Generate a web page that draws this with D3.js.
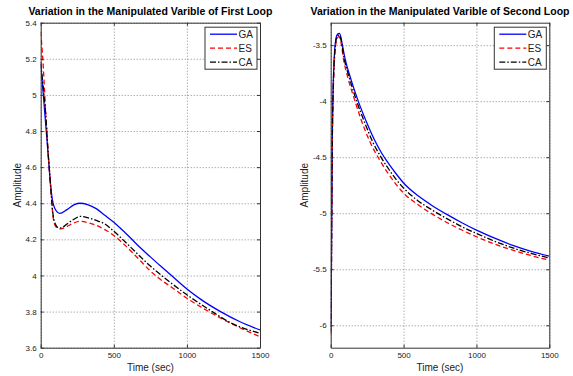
<!DOCTYPE html>
<html>
<head>
<meta charset="utf-8">
<script src="https://cdn.jsdelivr.net/npm/d3@7/dist/d3.min.js"></script>
<style>
  body { margin: 0; background: #fff; }
  svg { font-family: "Liberation Sans", Arial, sans-serif; }
</style>
</head>
<body>
<div id="chart"></div>
<script>
// ---- Data ----
const seriesNames = ["GA", "ES", "CA"]
const xTicks = [0, 500, 1000, 1500]

// first loop
const loop1Ticks = [3.6, 3.8, 4, 4.2, 4.4, 4.6, 4.8, 5, 5.2, 5.4]
const loop1GA_t = [0, 10, 20, 32, 50, 69, 82, 96, 130, 180, 230, 268, 320, 380, 439, 500, 560, 620, 680, 750, 820, 887, 1000, 1100, 1230, 1360, 1500]
const loop1GA_v = [5.17, 5.08, 4.98, 4.86, 4.68, 4.49, 4.41, 4.372, 4.344, 4.365, 4.392, 4.40, 4.393, 4.37, 4.333, 4.295, 4.25, 4.203, 4.155, 4.103, 4.052, 4.005, 3.925, 3.865, 3.80, 3.745, 3.698]
const loop1ES_t = [0, 8, 16, 24, 32, 42, 50, 60, 70, 84, 100, 120, 137, 180, 230, 268, 320, 380, 439, 500, 560, 620, 680, 750, 800, 900, 1000, 1150, 1300, 1500]
const loop1ES_v = [5.35, 5.27, 5.18, 5.06, 4.93, 4.80, 4.69, 4.58, 4.47, 4.33, 4.275, 4.26, 4.258, 4.272, 4.292, 4.30, 4.293, 4.278, 4.254, 4.222, 4.18, 4.133, 4.083, 4.025, 3.99, 3.932, 3.874, 3.80, 3.735, 3.661]
const loop1CA_t = [0, 10, 20, 30, 40, 50, 60, 70, 84, 100, 120, 140, 180, 230, 270, 320, 380, 439, 500, 560, 620, 680, 750, 850, 1000, 1150, 1300, 1500]
const loop1CA_v = [5.18, 5.10, 5.02, 4.94, 4.82, 4.69, 4.58, 4.47, 4.34, 4.285, 4.265, 4.264, 4.285, 4.313, 4.327, 4.32, 4.305, 4.285, 4.245, 4.20, 4.153, 4.105, 4.052, 3.985, 3.893, 3.812, 3.738, 3.68]

// second loop
const loop2Ticks = [-6, -5.5, -5, -4.5, -4, -3.5]
const loop2GA_t = [0, 2, 5, 8, 11, 15, 20, 27, 35, 45, 59, 70, 80, 98, 140, 189, 250, 300, 350, 400, 450, 500, 600, 700, 800, 900, 1000, 1125, 1250, 1375, 1500]
const loop2GA_v = [-6.0, -5.95, -5.45, -4.85, -4.3, -3.98, -3.74, -3.55, -3.45, -3.405, -3.395, -3.43, -3.50, -3.618, -3.81, -4.0, -4.2, -4.345, -4.465, -4.562, -4.65, -4.73, -4.845, -4.935, -5.013, -5.085, -5.151, -5.223, -5.287, -5.34, -5.383]
const loop2ES_t = [0, 2, 5, 8, 11, 15, 20, 27, 35, 45, 57, 70, 87, 120, 167, 210, 270, 338, 400, 450, 500, 600, 700, 800, 900, 1000, 1125, 1250, 1375, 1500]
const loop2ES_v = [-6.08, -6.0, -5.5, -4.9, -4.4, -4.05, -3.8, -3.6, -3.49, -3.44, -3.425, -3.47, -3.618, -3.80, -4.0, -4.17, -4.365, -4.53, -4.655, -4.745, -4.82, -4.925, -5.01, -5.085, -5.15, -5.21, -5.275, -5.33, -5.378, -5.419]
const loop2CA_t = [0, 2, 5, 8, 11, 15, 20, 27, 35, 45, 58, 70, 92, 130, 178, 230, 287, 350, 400, 450, 500, 600, 700, 800, 900, 1000, 1125, 1250, 1375, 1500]
const loop2CA_v = [-6.05, -5.98, -5.48, -4.88, -4.35, -4.02, -3.77, -3.58, -3.47, -3.42, -3.41, -3.45, -3.618, -3.80, -4.0, -4.18, -4.36, -4.51, -4.61, -4.70, -4.775, -4.89, -4.975, -5.05, -5.12, -5.18, -5.25, -5.31, -5.358, -5.40]

const zip = (t, v) => t.map((d, i) => [d, v[i]])

const styles = {
  GA: { color: "#0000ff", dash: null },
  ES: { color: "#ff0000", dash: "5,3" },
  CA: { color: "#000000", dash: "6,2,1.5,2" },
}

const width = 573
const height = 376

const svg = d3.select("#chart")
  .append("svg")
  .attr("width", width)
  .attr("height", height)

function drawPanel(opts) {
  const { left, right, top, bottom } = opts
  const w = right - left
  const h = bottom - top

  const x = d3.scaleLinear().domain([0, 1500]).range([0, w])
  const y = d3.scaleLinear().domain(opts.yDomain).range([h, 0])

  const g = svg.append("g").attr("transform", `translate(${left},${top})`)

  const clipId = "clip-" + opts.id
  g.append("clipPath").attr("id", clipId)
    .append("rect").attr("width", w).attr("height", h)

  // grid
  g.append("g")
    .attr("transform", `translate(0,${h})`)
    .call(d3.axisBottom(x).tickValues(xTicks).tickSize(-h).tickFormat(""))
    .call(a => a.select(".domain").remove())
    .selectAll("line").attr("stroke", "#8a8a8a").attr("stroke-dasharray", "1,2")
  g.append("g")
    .call(d3.axisLeft(y).tickValues(opts.yTicks).tickSize(-w).tickFormat(""))
    .call(a => a.select(".domain").remove())
    .selectAll("line").attr("stroke", "#8a8a8a").attr("stroke-dasharray", "1,2")

  // lines
  const line = d3.line()
    .x(d => x(d[0]))
    .y(d => y(d[1]))
    .curve(d3.curveMonotoneX)

  const lines = g.append("g").attr("clip-path", `url(#${clipId})`)
  opts.series.forEach(s => {
    lines.append("path")
      .datum(s.data)
      .attr("fill", "none")
      .attr("stroke", styles[s.name].color)
      .attr("stroke-width", 1.3)
      .attr("stroke-dasharray", styles[s.name].dash)
      .attr("d", line)
  })

  // axes
  const fmt = d => String(+d.toFixed(1))
  const axisStyle = a => {
    a.select(".domain").attr("stroke", "#333")
    a.selectAll(".tick line").attr("stroke", "#333")
    a.selectAll("text").attr("fill", "#222").attr("font-size", 8)
      .attr("font-family", "Liberation Sans, Arial, sans-serif")
  }
  g.append("g")
    .attr("transform", `translate(0,${h})`)
    .call(d3.axisBottom(x).tickValues(xTicks).tickSize(-3).tickSizeOuter(0).tickPadding(5).tickFormat(fmt))
    .call(axisStyle)
  g.append("g")
    .call(d3.axisLeft(y).tickValues(opts.yTicks).tickSize(-3).tickSizeOuter(0).tickPadding(4).tickFormat(fmt))
    .call(axisStyle)
  g.append("g")
    .call(d3.axisTop(x).tickValues(xTicks).tickSize(-3).tickSizeOuter(0).tickFormat(""))
    .call(axisStyle)
  g.append("g")
    .attr("transform", `translate(${w},0)`)
    .call(d3.axisRight(y).tickValues(opts.yTicks).tickSize(-3).tickSizeOuter(0).tickFormat(""))
    .call(axisStyle)

  // title and labels
  g.append("text")
    .attr("x", w / 2).attr("y", -8)
    .attr("text-anchor", "middle")
    .attr("font-size", 10.5).attr("font-weight", "bold")
    .attr("fill", "#000")
    .text(opts.title)
  g.append("text")
    .attr("x", w / 2).attr("y", h + 23)
    .attr("text-anchor", "middle")
    .attr("font-size", 10).attr("fill", "#222")
    .text("Time (sec)")
  g.append("text")
    .attr("transform", `translate(${-opts.ylabelOffset},${h / 2}) rotate(-90)`)
    .attr("text-anchor", "middle")
    .attr("font-size", 10).attr("fill", "#222")
    .text("Amplitude")

  // legend
  const lg = g.append("g").attr("transform", `translate(${w - 55},4.5)`)
  lg.append("rect")
    .attr("width", 52).attr("height", 42)
    .attr("fill", "#fff").attr("stroke", "#333")
  seriesNames.forEach((n, i) => {
    const yy = 7 + i * 14
    lg.append("line")
      .attr("x1", 5).attr("x2", 32).attr("y1", yy).attr("y2", yy)
      .attr("stroke", styles[n].color).attr("stroke-width", 1.3)
      .attr("stroke-dasharray", styles[n].dash)
    lg.append("text")
      .attr("x", 33.5).attr("y", yy + 3.5)
      .attr("font-size", 10).attr("fill", "#222")
      .text(n)
  })
}

drawPanel({
  id: "a",
  left: 40.7, right: 260, top: 22.7, bottom: 347.7,
  yDomain: [3.6, 5.4], yTicks: loop1Ticks,
  ylabelOffset: 20,
  title: "Variation in the Manipulated Varible of First Loop",
  series: [
    { name: "GA", data: zip(loop1GA_t, loop1GA_v) },
    { name: "ES", data: zip(loop1ES_t, loop1ES_v) },
    { name: "CA", data: zip(loop1CA_t, loop1CA_v) },
  ],
})

drawPanel({
  id: "b",
  left: 330.7, right: 549.3, top: 22.7, bottom: 347.7,
  yDomain: [-6.2, -3.3], yTicks: loop2Ticks,
  ylabelOffset: 22.5,
  title: "Variation in the Manipulated Varible of Second Loop",
  series: [
    { name: "GA", data: zip(loop2GA_t, loop2GA_v) },
    { name: "ES", data: zip(loop2ES_t, loop2ES_v) },
    { name: "CA", data: zip(loop2CA_t, loop2CA_v) },
  ],
})
</script>
</body>
</html>
